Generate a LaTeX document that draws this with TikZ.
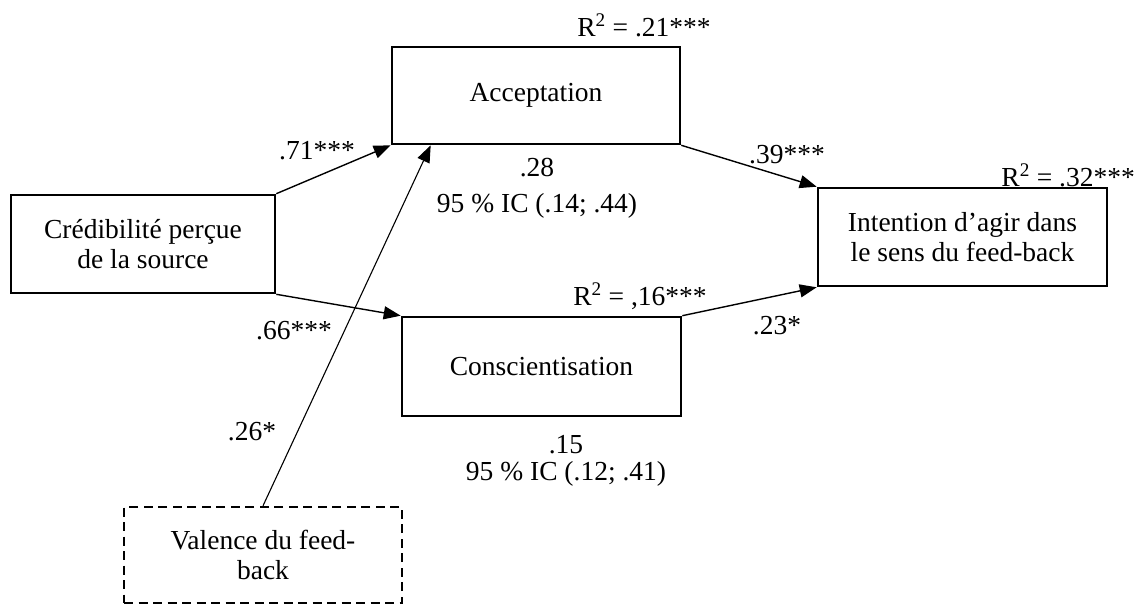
\documentclass[tikz,border=0pt]{standalone}
\usepackage{fontspec}
\setmainfont{Liberation Serif}
\usetikzlibrary{arrows.meta}
\begin{document}
\begin{tikzpicture}[x=1pt,y=-1pt,
  every node/.style={font=\fontsize{27.5}{30}\selectfont},
  box/.style={draw,line width=2.6pt,rectangle,inner sep=0pt,align=center},
  dbox/.style={box,line width=2.4pt,dash pattern=on 9pt off 5.5pt},
  lab/.style={anchor=base,inner sep=0pt},
  arr/.style={line width=1.4pt,-{Triangle[length=17pt,width=13pt]}}]
\useasboundingbox (0,0) rectangle (1137,605);
\fill[white] (0,0) rectangle (1137,605);
\node[box,minimum width=264pt,minimum height=98pt] (cred) at (143,244) {Crédibilité perçue\\de la source};
\node[box,minimum width=288pt,minimum height=97pt] (acc) at (536,95.5) {\raisebox{-4pt}{Acceptation}};
\node[box,minimum width=289pt,minimum height=98pt] (int) at (962.5,237) {Intention d’agir dans\\le sens du feed-back};
\node[box,minimum width=279pt,minimum height=99pt] (con) at (541.5,366.5) {Conscientisation};
\node[dbox,minimum width=278pt,minimum height=96pt] (val) at (263,555) {Valence du feed-\\back};
\coordinate (vend) at ([xshift=40pt]acc.south west);
\draw[arr] (cred.north east) -- (acc.south west);
\draw[arr] (cred.south east) -- (con.north west);
\draw[arr] (acc.south east) -- (int.north west);
\draw[arr] (con.north east) -- (int.south west);
\draw[arr,line width=1.1pt] (val.north) -- (vend);
\node[lab] (r1) at (644,36) {R\textsuperscript{2} = .21***};
\node[lab] (l71) at (317,159) {.71***};
\node[lab] (l39) at (787,163) {.39***};
\node[lab] (l28) at (537,176) {.28};
\node[lab] (ic1) at (537,212) {95 \% IC (.14; .44)};
\node[lab,anchor=base east] (r3) at (1135,186) {R\textsuperscript{2} = .32***};
\node[lab] (r2) at (640,305) {R\textsuperscript{2} = ,16***};
\node[lab] (l66) at (294,339) {.66***};
\node[lab] (l23) at (777,334) {.23*};
\node[lab] (l26) at (252,440) {.26*};
\node[lab] (l15) at (566,453) {.15};
\node[lab] (ic2) at (566,480) {95 \% IC (.12; .41)};
\end{tikzpicture}
\end{document}
